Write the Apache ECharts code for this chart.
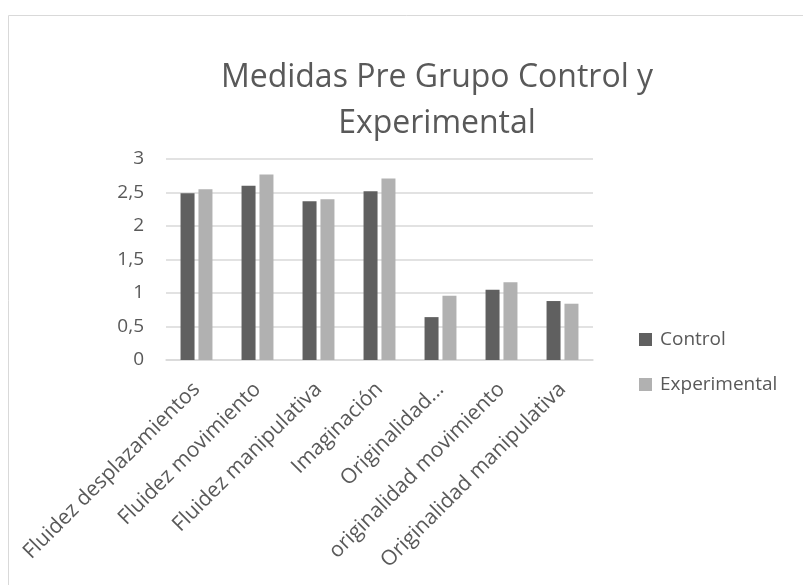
<!DOCTYPE html>
<html>
<head>
<meta charset="utf-8">
<script src="https://cdn.jsdelivr.net/npm/echarts@6/dist/echarts.min.js"></script>
<style>
  html, body { margin: 0; padding: 0; background: #fff; }
  #chart { width: 803px; height: 585px; }
</style>
</head>
<body>
<div id="chart"></div>
<script>
// datos
const categories = [
  "Fluidez desplazamientos",
  "Fluidez movimiento",
  "Fluidez manipulativa",
  "Imaginación",
  "Originalidad...",
  "originalidad movimiento",
  "Originalidad manipulativa"
];
const controlValues = [2.49, 2.6, 2.37, 2.52, 0.64, 1.05, 0.88];
const experimentalValues = [2.55, 2.77, 2.4, 2.71, 0.96, 1.16, 0.84];
const yTicks = [0, 0.5, 1, 1.5, 2, 2.5, 3];

const chart = echarts.init(document.getElementById("chart"));
const font = "'Open Sans', sans-serif";

const option = {
  animation: false,
  color: ["#606060", "#b1b1b1"],
  graphic: [{
    type: "rect",
    left: 6,
    top: 13,
    shape: { width: 900, height: 700 },
    style: { fill: null, stroke: "#d9d9d9", lineWidth: 1 },
    silent: true
  }],
  title: {
    text: "Medidas Pre Grupo Control y\nExperimental",
    left: 432,
    textAlign: "center",
    top: 50,
    textStyle: {
      fontFamily: font,
      fontWeight: "normal",
      fontSize: 32,
      lineHeight: 46,
      color: "#595959"
    }
  },
  legend: {
    orient: "vertical",
    left: 634,
    top: 325,
    itemWidth: 13,
    itemHeight: 13,
    itemGap: 26,
    icon: "rect",
    textStyle: { fontFamily: font, fontSize: 19, color: "#595959", padding: [0, 0, 0, 3] },
    data: ["Control", "Experimental"]
  },
  grid: { left: 166, right: 210, top: 159, bottom: 225, containLabel: false },
  xAxis: {
    type: "category",
    data: categories,
    axisLine: { lineStyle: { color: "#d9d9d9", width: 1.5 } },
    axisTick: { show: false },
    axisLabel: {
      rotate: 45,
      interval: 0,
      margin: 26,
      fontFamily: font,
      fontSize: 21,
      color: "#595959"
    }
  },
  yAxis: {
    type: "value",
    min: yTicks[0],
    max: yTicks[yTicks.length - 1],
    interval: 0.5,
    axisLine: { show: false },
    axisTick: { show: false },
    splitLine: { lineStyle: { color: "#d9d9d9", width: 1.5 } },
    axisLabel: {
      margin: 22,
      fontFamily: font,
      fontSize: 19,
      color: "#595959",
      formatter: (v) => String(v).replace(".", ",")
    }
  },
  series: [
    {
      name: "Control",
      type: "bar",
      data: controlValues,
      barWidth: 14,
      barGap: "28%"
    },
    {
      name: "Experimental",
      type: "bar",
      data: experimentalValues,
      barWidth: 14
    }
  ]
};
chart.setOption(option);
</script>
</body>
</html>
